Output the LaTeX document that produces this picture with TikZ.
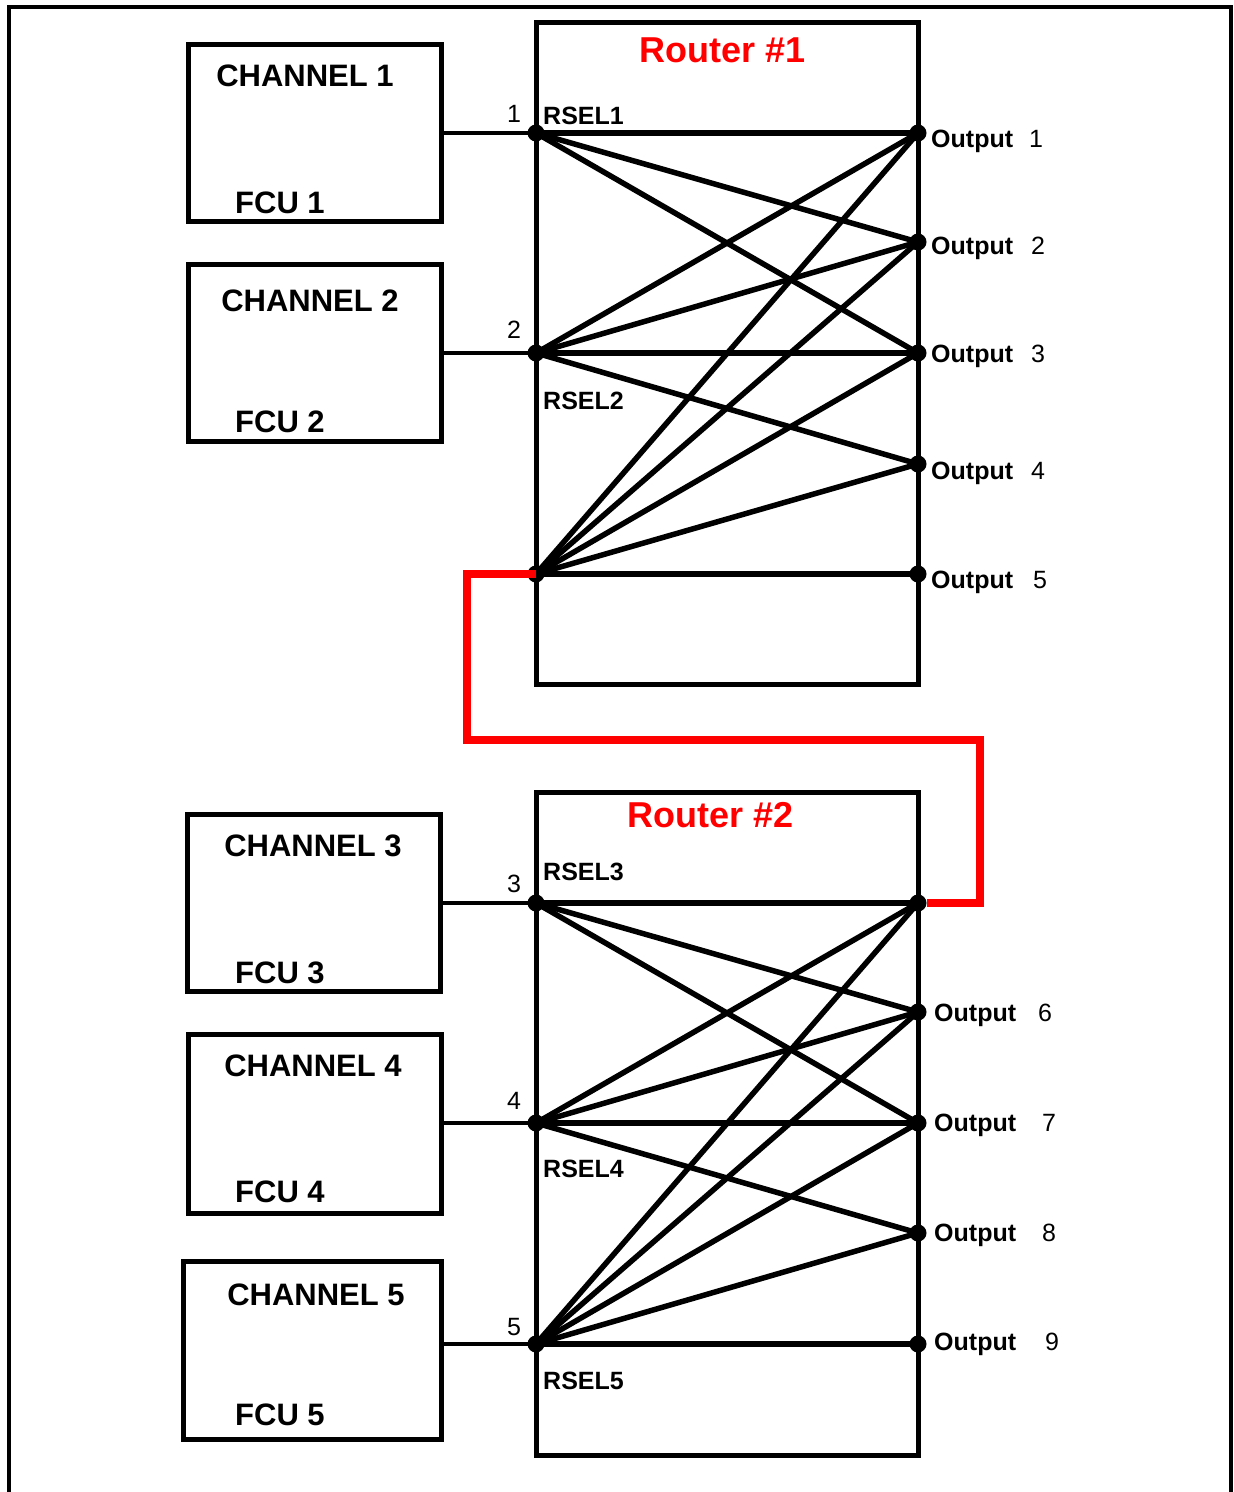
\documentclass[tikz,border=0pt]{standalone}
\usepackage{fontspec}
\setmainfont{Liberation Sans}
\usetikzlibrary{positioning}

\begin{document}
\begin{tikzpicture}[x=1pt, y=-1pt,
    frame/.style={line width=4.5pt},
    chbox/.style={draw, line width=5pt, minimum width=253pt, minimum height=177pt, inner sep=0pt},
    rbox/.style={draw, line width=5pt, minimum width=382pt, inner sep=0pt},
    wire/.style={line width=5.5pt},
    pin/.style={circle, fill=black, inner sep=0pt, minimum size=17pt},
    chtxt/.style={font=\bfseries\fontsize{31}{31}\selectfont, anchor=base, inner sep=0pt},
    fcutxt/.style={font=\bfseries\fontsize{31}{31}\selectfont, anchor=base west, inner sep=0pt},
    rtitle/.style={red, font=\bfseries\fontsize{36}{36}\selectfont, inner sep=0pt},
    rsel/.style={font=\bfseries\fontsize{25}{25}\selectfont, anchor=west, inner sep=0pt},
    pnum/.style={font=\fontsize{25}{25}\selectfont, inner sep=0pt},
    outtxt/.style={font=\fontsize{25}{25}\selectfont, anchor=west, inner sep=0pt},
    link/.style={red, line width=8pt}
]
\useasboundingbox (0,0) rectangle (1234,1492);
\draw[frame] (9,1492) -- (9,7) -- (1231,7) -- (1231,1492);

% channel boxes
\node[chbox] (ch1) at (314.5,132.5) {};
\node[chbox] (ch2) at (314.5,352.5) {};
\node[chbox] (ch3) at (313.5,902.5) {};
\node[chbox, minimum height=179pt] (ch4) at (314.5,1123.5) {};
\node[chbox, minimum width=258pt, minimum height=178pt] (ch5) at (312,1350) {};
\node[chtxt] (ch1a) at (305,86) {CHANNEL 1};
\node[chtxt] (ch2a) at (310,311) {CHANNEL 2};
\node[chtxt] (ch3a) at (313,856) {CHANNEL 3};
\node[chtxt] (ch4a) at (313,1076) {CHANNEL 4};
\node[chtxt] (ch5a) at (316,1305) {CHANNEL 5};
\node[fcutxt] (ch1b) at (235,213) {FCU 1};
\node[fcutxt] (ch2b) at (235,432) {FCU 2};
\node[fcutxt] (ch3b) at (235,983) {FCU 3};
\node[fcutxt] (ch4b) at (235,1202) {FCU 4};
\node[fcutxt] (ch5b) at (235,1425) {FCU 5};

% routers
\node[rbox, minimum height=662pt] (r1) at (727,353) {};
\node[rbox, minimum height=663pt] (r2) at (727,1123.5) {};
\node[rtitle] (r1t) at (723,50) {Router \#1};
\node[rtitle] (r2t) at (711,815) {Router \#2};

% pins of router 1
\foreach \n/\y in {1/133,2/353,3/574}
  \node[pin] (a\n) at (536,\y) {};
\foreach \n/\y in {1/133,2/242,3/353,4/464,5/574}
  \node[pin] (o\n) at (918,\y) {};
% pins of router 2
\foreach \n/\y in {1/903,2/1123,3/1344}
  \node[pin] (b\n) at (536,\y) {};
\foreach \n/\y in {0/903,6/1012,7/1123,8/1233,9/1344}
  \node[pin] (p\n) at (918,\y) {};

% channels to routers
\draw[frame] (a1 -| ch1.east) -- (a1.center);
\draw[frame] (a2 -| ch2.east) -- (a2.center);
\draw[frame] (b1 -| ch3.east) -- (b1.center);
\draw[frame] (b2 -| ch4.east) -- (b2.center);
\draw[frame] (b3 -| ch5.east) -- (b3.center);

% crossbar 1
\foreach \o in {1,2,3} \draw[wire] (a1.center) -- (o\o.center);
\foreach \o in {1,2,3,4} \draw[wire] (a2.center) -- (o\o.center);
\foreach \o in {1,2,3,4,5} \draw[wire] (a3.center) -- (o\o.center);
% crossbar 2
\foreach \o in {0,6,7} \draw[wire] (b1.center) -- (p\o.center);
\foreach \o in {0,6,7,8} \draw[wire] (b2.center) -- (p\o.center);
\foreach \o in {0,6,7,8,9} \draw[wire] (b3.center) -- (p\o.center);

% input labels
\node[pnum] (n1) at (514,114) {1};
\node[pnum] (n2) at (514,330) {2};
\node[pnum] (n3) at (514,884) {3};
\node[pnum] (n4) at (514,1101) {4};
\node[pnum] (n5) at (514,1327) {5};
\node[rsel] (s1) at (543,116) {RSEL1};
\node[rsel] (s2) at (543,401) {RSEL2};
\node[rsel] (s3) at (543,872) {RSEL3};
\node[rsel] (s4) at (543,1169) {RSEL4};
\node[rsel] (s5) at (543,1381) {RSEL5};

% output labels
\node[outtxt] (l1) at (931,141) {\textbf{Output}\hspace{16pt}1};
\node[outtxt] (l2) at (931,248) {\textbf{Output}\hspace{18pt}2};
\node[outtxt] (l3) at (931,356) {\textbf{Output}\hspace{18pt}3};
\node[outtxt] (l4) at (931,473) {\textbf{Output}\hspace{18pt}4};
\node[outtxt] (l5) at (931,582) {\textbf{Output}\hspace{20pt}5};
\node[outtxt] (l6) at (934,1015) {\textbf{Output}\hspace{22pt}6};
\node[outtxt] (l7) at (934,1125) {\textbf{Output}\hspace{26pt}7};
\node[outtxt] (l8) at (934,1235) {\textbf{Output}\hspace{26pt}8};
\node[outtxt] (l9) at (934,1344) {\textbf{Output}\hspace{29pt}9};

% cascade link
\draw[link] (a3.center) -- (467,574) -- (467,740) -- (980,740) -- (980,903) -- (p0.east);
\end{tikzpicture}
\end{document}
